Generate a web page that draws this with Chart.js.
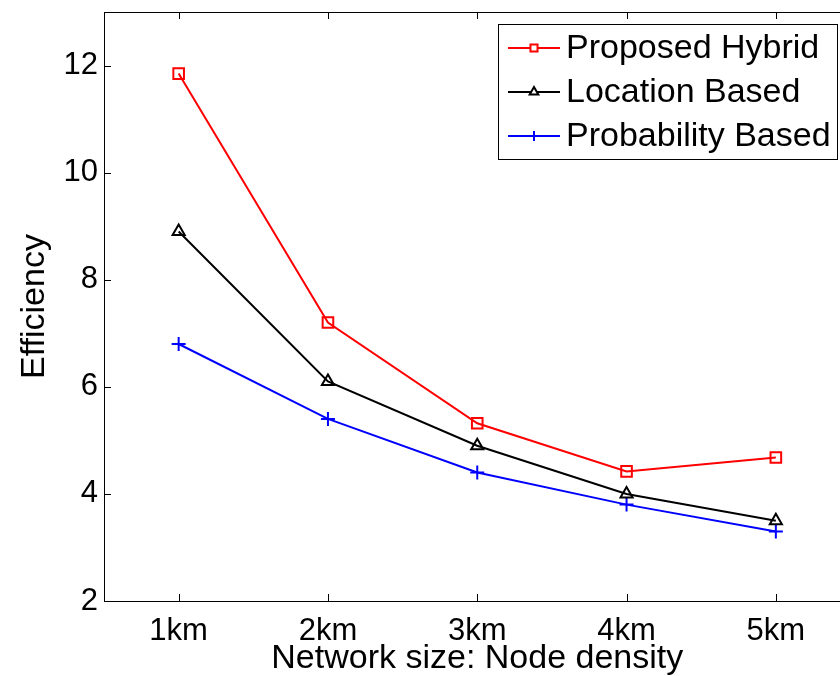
<!DOCTYPE html>
<html>
<head>
<meta charset="utf-8">
<script src="https://cdn.jsdelivr.net/npm/chart.js@4.4.1/dist/chart.umd.min.js"></script>
<style>
  html, body { margin: 0; padding: 0; background: #fff; overflow: hidden; }
  #wrap { width: 860px; height: 676px; }
</style>
</head>
<body>
<div id="wrap"><canvas id="effChart" width="860" height="676"></canvas></div>
<script>
// data
const xValues = [1, 2, 3, 4, 5];
const xTickLabels = ['1km', '2km', '3km', '4km', '5km'];
const yTickValues = [2, 4, 6, 8, 10, 12];
const seriesNames = ['Proposed Hybrid', 'Location Based', 'Probability Based'];
const hybridEff = [11.85, 7.2, 5.32, 4.42, 4.68];
const locationEff = [8.9, 6.1, 4.9, 4.0, 3.5];
const probabilityEff = [6.8, 5.4, 4.4, 3.8, 3.3];

const toPoints = (vals) => vals.map((v, i) => ({ x: xValues[i], y: v }));
const FONT = 'Arial, "Liberation Sans", sans-serif';

// matlab style box + inward ticks + framed legend
const matlabBox = {
  id: 'matlabBox',
  afterDraw(chart) {
    const { ctx, chartArea: a, scales } = chart;
    ctx.save();
    ctx.strokeStyle = '#000';
    ctx.lineWidth = 1;
    ctx.strokeRect(a.left + 0.5, a.top + 0.5, a.right - a.left, a.bottom - a.top);
    ctx.beginPath();
    xValues.forEach((v) => {
      const px = Math.round(scales.x.getPixelForValue(v)) + 0.5;
      ctx.moveTo(px, a.bottom); ctx.lineTo(px, a.bottom - 7);
      ctx.moveTo(px, a.top); ctx.lineTo(px, a.top + 7);
    });
    yTickValues.forEach((v) => {
      const py = Math.round(scales.y.getPixelForValue(v)) + 0.5;
      ctx.moveTo(a.left, py); ctx.lineTo(a.left + 7, py);
      ctx.moveTo(a.right, py); ctx.lineTo(a.right - 7, py);
    });
    ctx.stroke();

    // legend
    const bx = 498, by = 24, bw = 339, bh = 135;
    ctx.fillStyle = '#fff';
    ctx.fillRect(bx, by, bw, bh);
    ctx.strokeRect(bx + 0.5, by + 0.5, bw, bh);
    ctx.font = '34px ' + FONT;
    ctx.textBaseline = 'middle';
    chart.data.datasets.forEach((ds, i) => {
      const y = by + 24 + i * 44;
      ctx.strokeStyle = ds.borderColor;
      ctx.lineWidth = 2;
      ctx.beginPath();
      ctx.moveTo(508, y); ctx.lineTo(560, y);
      ctx.stroke();
      ctx.fillStyle = '#fff';
      Chart.helpers.drawPoint(ctx, {
        pointStyle: ds.pointStyle, radius: 5, rotation: 0, borderWidth: 2
      }, 534, y);
      ctx.fillStyle = '#000';
      ctx.fillText(ds.label, 566, y + 1);
    });
    ctx.restore();
  }
};

const mkSet = (label, data, color, style, radius) => ({
  label: label,
  data: toPoints(data),
  borderColor: color,
  backgroundColor: 'rgba(0,0,0,0)',
  borderWidth: 2,
  pointStyle: style,
  pointRadius: radius,
  pointBorderWidth: 2,
  pointBorderColor: color,
  pointBackgroundColor: 'rgba(0,0,0,0)',
  tension: 0
});

new Chart(document.getElementById('effChart'), {
  type: 'line',
  data: {
    datasets: [
      mkSet(seriesNames[0], hybridEff, '#ff0000', 'rect', 7.5),
      mkSet(seriesNames[1], locationEff, '#000000', 'triangle', 7),
      mkSet(seriesNames[2], probabilityEff, '#0000ff', 'cross', 7)
    ]
  },
  options: {
    responsive: false,
    animation: false,
    layout: { padding: { top: 12, right: 7, left: 0, bottom: 0 } },
    plugins: { legend: { display: false }, tooltip: { enabled: false } },
    scales: {
      x: {
        type: 'linear',
        min: 0.5,
        max: 5.5,
        afterBuildTicks: (s) => { s.ticks = xValues.map((v) => ({ value: v })); },
        afterFit: (s) => { s.height = 75; s.paddingLeft = 0; s.paddingRight = 0; },
        grid: { display: false, drawTicks: false },
        border: { display: false },
        ticks: {
          padding: 12,
          color: '#000',
          font: { family: FONT, size: 31 },
          maxRotation: 0,
          callback: (v) => xTickLabels[xValues.indexOf(v)]
        },
        title: {
          display: true,
          text: 'Network size: Node density',
          color: '#000',
          font: { family: FONT, size: 34, lineHeight: 1 },
          padding: { top: 0, bottom: 0 }
        }
      },
      y: {
        min: 2,
        max: 13,
        afterBuildTicks: (s) => { s.ticks = yTickValues.map((v) => ({ value: v })); },
        afterFit: (s) => { s.width = 104; s.paddingTop = 0; s.paddingBottom = 0; },
        grid: { display: false, drawTicks: false },
        border: { display: false },
        ticks: {
          padding: 6,
          color: '#000',
          font: { family: FONT, size: 31 }
        },
        title: {
          display: true,
          text: 'Efficiency',
          color: '#000',
          font: { family: FONT, size: 34, lineHeight: 1 },
          padding: { top: 18, bottom: 0 }
        }
      }
    }
  },
  plugins: [matlabBox]
});
</script>
</body>
</html>
